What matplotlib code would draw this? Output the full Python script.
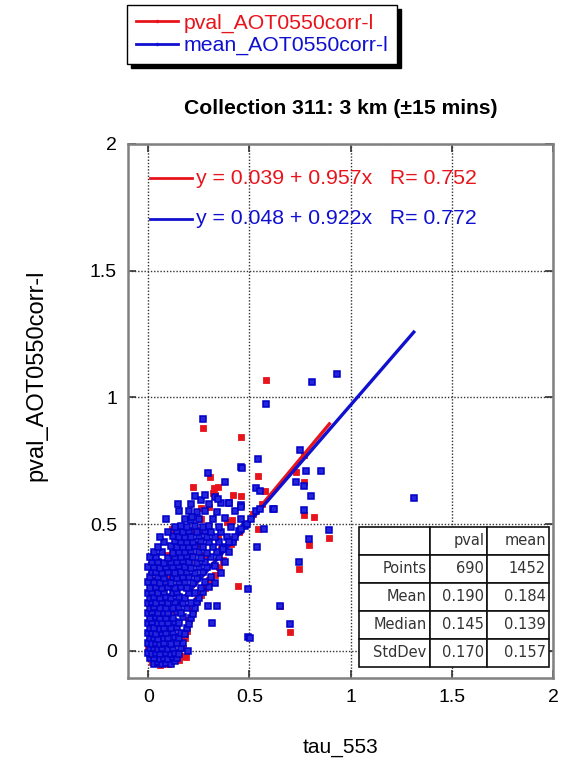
import matplotlib
import numpy as np
import matplotlib.pyplot as plt
from matplotlib.lines import Line2D
matplotlib.use('agg')

# Scatter of retrieved AOT (pval / mean) against tau_553 with linear fits

# mean_AOT0550corr-l (x = tau_553, y = retrieval)
blue_pts = [
    (0.03, -0.05), (0.05, -0.045), (0.07, -0.052), (0.09, -0.047), (0.11, -0.05), (0.13, -0.04),
    (0.01, -0.03), (0.03, -0.028), (0.06, -0.033), (0.08, -0.027), (0.1, -0.031), (0.12, -0.026), (0.14, -0.03),
    (0.0, -0.01), (0.02, -0.012), (0.04, -0.008), (0.06, -0.013), (0.09, -0.009), (0.11, -0.011), (0.13, -0.007), (0.15, -0.012),
    (0.01, 0.01), (0.03, 0.012), (0.05, 0.008), (0.07, 0.011), (0.1, 0.009), (0.12, 0.013), (0.16, 0.01),
    (0.0, 0.03), (0.02, 0.028), (0.04, 0.033), (0.06, 0.029), (0.08, 0.031), (0.11, 0.027), (0.14, 0.032), (0.17, 0.03),
    (0.01, 0.05), (0.03, 0.052), (0.05, 0.048), (0.08, 0.051), (0.1, 0.049), (0.13, 0.053), (0.15, 0.05),
    (0.0, 0.07), (0.02, 0.072), (0.04, 0.068), (0.07, 0.071), (0.09, 0.069), (0.12, 0.073), (0.16, 0.07), (0.18, 0.068),
    (0.01, 0.09), (0.03, 0.092), (0.06, 0.088), (0.08, 0.091), (0.11, 0.089), (0.14, 0.093), (0.19, 0.09),
    (0.0, 0.11), (0.02, 0.112), (0.05, 0.108), (0.07, 0.111), (0.1, 0.109), (0.13, 0.113), (0.15, 0.11), (0.2, 0.107),
    (0.01, 0.13), (0.04, 0.132), (0.06, 0.128), (0.09, 0.131), (0.12, 0.129), (0.17, 0.133), (0.21, 0.13),
    (0.0, 0.15), (0.02, 0.152), (0.05, 0.148), (0.08, 0.151), (0.1, 0.149), (0.14, 0.153), (0.16, 0.15), (0.22, 0.147),
    (0.01, 0.17), (0.03, 0.172), (0.06, 0.168), (0.09, 0.171), (0.12, 0.169), (0.15, 0.173), (0.19, 0.17), (0.23, 0.168),
    (0.0, 0.19), (0.02, 0.192), (0.04, 0.188), (0.07, 0.191), (0.1, 0.189), (0.13, 0.193), (0.17, 0.19), (0.21, 0.188), (0.24, 0.191),
    (0.01, 0.21), (0.03, 0.212), (0.06, 0.208), (0.09, 0.211), (0.11, 0.209), (0.15, 0.213), (0.18, 0.21), (0.25, 0.207),
    (0.0, 0.23), (0.02, 0.232), (0.05, 0.228), (0.08, 0.231), (0.12, 0.229), (0.14, 0.233), (0.2, 0.23), (0.23, 0.228), (0.27, 0.231),
    (0.01, 0.25), (0.04, 0.252), (0.07, 0.248), (0.1, 0.251), (0.13, 0.249), (0.16, 0.253), (0.19, 0.25), (0.26, 0.247), (0.3, 0.252),
    (0.0, 0.27), (0.03, 0.272), (0.06, 0.268), (0.09, 0.271), (0.11, 0.269), (0.15, 0.273), (0.18, 0.27), (0.22, 0.268), (0.28, 0.271), (0.33, 0.269),
    (0.01, 0.29), (0.05, 0.292), (0.08, 0.288), (0.12, 0.291), (0.14, 0.289), (0.17, 0.293), (0.2, 0.29), (0.24, 0.288), (0.31, 0.291),
    (0.02, 0.31), (0.04, 0.312), (0.07, 0.308), (0.1, 0.311), (0.13, 0.309), (0.16, 0.313), (0.19, 0.31), (0.23, 0.308), (0.27, 0.311), (0.36, 0.309),
    (0.0, 0.33), (0.03, 0.332), (0.06, 0.328), (0.09, 0.331), (0.12, 0.329), (0.15, 0.333), (0.18, 0.33), (0.21, 0.328), (0.25, 0.331), (0.29, 0.329), (0.33, 0.333),
    (0.02, 0.35), (0.05, 0.352), (0.08, 0.348), (0.11, 0.351), (0.14, 0.349), (0.17, 0.353), (0.2, 0.35), (0.24, 0.348), (0.28, 0.351), (0.38, 0.349),
    (0.01, 0.37), (0.04, 0.372), (0.1, 0.368), (0.13, 0.371), (0.16, 0.369), (0.19, 0.373), (0.22, 0.37), (0.26, 0.368), (0.31, 0.371), (0.35, 0.369),
    (0.03, 0.39), (0.07, 0.392), (0.12, 0.388), (0.15, 0.391), (0.18, 0.389), (0.21, 0.393), (0.25, 0.39), (0.29, 0.388), (0.34, 0.391), (0.4, 0.389),
    (0.05, 0.41), (0.11, 0.412), (0.14, 0.408), (0.17, 0.411), (0.2, 0.409), (0.23, 0.413), (0.27, 0.41), (0.32, 0.408), (0.37, 0.411),
    (0.08, 0.43), (0.13, 0.432), (0.16, 0.428), (0.19, 0.431), (0.22, 0.429), (0.26, 0.433), (0.3, 0.43), (0.35, 0.428), (0.42, 0.431),
    (0.06, 0.45), (0.12, 0.452), (0.15, 0.448), (0.18, 0.451), (0.21, 0.449), (0.25, 0.453), (0.29, 0.45), (0.33, 0.448), (0.39, 0.451),
    (0.1, 0.47), (0.14, 0.472), (0.17, 0.468), (0.2, 0.471), (0.24, 0.469), (0.28, 0.473), (0.31, 0.47), (0.36, 0.468), (0.45, 0.471),
    (0.13, 0.49), (0.16, 0.492), (0.19, 0.488), (0.23, 0.491), (0.27, 0.489), (0.3, 0.493), (0.35, 0.49), (0.41, 0.488), (0.48, 0.491),
    (0.09, 0.52), (0.18, 0.522), (0.21, 0.518), (0.25, 0.521), (0.32, 0.519), (0.38, 0.523), (0.46, 0.52),
    (0.15, 0.55), (0.2, 0.552), (0.24, 0.548), (0.28, 0.551), (0.34, 0.549), (0.43, 0.553),
    (0.145, 0.581), (0.21, 0.58), (0.26, 0.596), (0.3, 0.578), (0.36, 0.582), (0.4, 0.583), (0.46, 0.576),
    (0.23, 0.61), (0.28, 0.615), (0.33, 0.608), (0.218, 0.527), (0.296, 0.701), (0.378, 0.668), (0.46, 0.725), (0.343, 0.598),
    (0.37, 0.40), (0.40, 0.43), (0.43, 0.45), (0.46, 0.48), (0.49, 0.50), (0.51, 0.52), (0.53, 0.55), (0.55, 0.56), (0.749, 0.793),
    (0.931, 1.093), (0.807, 1.061), (0.583, 0.974), (0.271, 0.915), (0.543, 0.757), (0.462, 0.722), (0.856, 0.710),
    (0.777, 0.710), (0.771, 0.651), (0.731, 0.668), (0.802, 0.611), (0.769, 0.556), (0.617, 0.559), (0.895, 0.477),
    (0.794, 0.442), (0.744, 0.350), (0.653, 0.178), (0.701, 0.105), (0.492, 0.055), (0.505, 0.051), (0.535, 0.410),
    (0.494, 0.243), (1.312, 0.603), (0.313, 0.110), (0.342, 0.178), (0.293, 0.178), (0.196, 0.0), (0.459, 0.569),
    (0.620, 0.560), (0.571, 0.481), (0.530, 0.642), (0.551, 0.631), (0.401, 0.583),
]

# pval_AOT0550corr-l
red_pts = [
    (0.02, -0.045), (0.06, -0.055), (0.1, -0.05), (0.15, -0.035), (0.16, -0.02), (0.0, 0.02), (0.17, 0.01),
    (0.18, 0.05), (0.02, 0.1), (0.19, 0.08), (0.2, 0.12), (0.01, 0.16), (0.22, 0.16), (0.05, 0.2), (0.24, 0.2),
    (0.12, 0.24), (0.26, 0.22), (0.28, 0.25), (0.03, 0.28), (0.3, 0.28), (0.09, 0.3), (0.33, 0.3), (0.15, 0.32),
    (0.35, 0.33), (0.04, 0.34), (0.2, 0.36), (0.37, 0.36), (0.1, 0.38), (0.28, 0.38), (0.139, 0.379), (0.17, 0.4),
    (0.36, 0.4), (0.24, 0.42), (0.41, 0.42), (0.175, 0.451), (0.345, 0.447), (0.115, 0.48), (0.233, 0.477),
    (0.266, 0.477), (0.455, 0.477), (0.261, 0.52), (0.39, 0.51), (0.414, 0.517), (0.262, 0.563), (0.299, 0.569),
    (0.419, 0.615), (0.46, 0.611), (0.318, 0.622), (0.332, 0.615), (0.323, 0.642), (0.343, 0.648), (0.219, 0.645),
    (0.307, 0.688), (0.579, 0.632), (0.08, 0.12), (0.13, 0.06), (0.07, 0.26), (0.11, 0.0), (0.187, -0.025),
    (0.42, 0.44), (0.45, 0.47), (0.48, 0.50), (0.52, 0.54), (0.56, 0.58), (0.772, 0.773),
    (0.583, 1.069), (0.271, 0.880), (0.460, 0.844), (0.540, 0.690), (0.771, 0.667), (0.731, 0.707), (0.769, 0.537),
    (0.817, 0.529), (0.895, 0.446), (0.794, 0.418), (0.744, 0.324), (0.653, 0.178), (0.701, 0.075), (0.444, 0.256),
    (0.541, 0.481),
]

# linear fits: intercept, slope, R
red_fit = [0.039, 0.957, 0.752]
blue_fit = [0.048, 0.922, 0.772]

# summary table
stat_cols = ['', 'pval', 'mean']
stat_rows = ['Points', 'Mean', 'Median', 'StdDev']
stat_pval = ['690', '0.190', '0.145', '0.170']
stat_mean = ['1452', '0.184', '0.139', '0.157']

ticks = [0, 0.5, 1, 1.5, 2]
tick_labels = ['0', '0.5', '1', '1.5', '2']

RED = '#e8141c'
BLUE = '#1010d0'

plt.rcParams['font.family'] = ['Liberation Sans', 'DejaVu Sans']

fig = plt.figure(figsize=(5.7, 7.7), dpi=100)
ax = fig.add_axes([0.2246, 0.1195, 0.7456, 0.6935])

rx, ry = np.array(red_pts).T
bx, by = np.array(blue_pts).T

# fit lines over the range of each series
for xs, fit, col in [(rx, red_fit, RED), (bx, blue_fit, BLUE)]:
    xl = np.array([xs.min(), xs.max()])
    ax.plot(xl, fit[0] + fit[1] * xl, color=col, lw=2.4, zorder=3)

ax.plot(rx, ry, 's', ms=3.7, color=RED, mec=RED, mew=0.6, zorder=2)
ax.plot(bx, by, 's', ms=3.9, mfc='#2424dc', mec='#0000c8', mew=1.1, zorder=4)

ax.set_xlim(-0.1, 2)
ax.set_ylim(-0.107, 2)
ax.set_xticks(ticks, tick_labels)
ax.set_yticks(ticks, tick_labels)
ax.tick_params(direction='in', length=6, width=1.2, top=True, right=True,
               labelsize=14, pad=8, color='#333')
ax.grid(True, color='#333', lw=1.0, ls=(0, (1, 1.3)))
ax.set_axisbelow(True)
for s in ax.spines.values():
    s.set_color('#808080')
    s.set_linewidth(1.8)

ax.set_xlabel('tau_553', fontsize=15)
ax.xaxis.set_label_coords(0.5, -0.112)
ax.set_ylabel('pval_AOT0550corr-l', fontsize=17)
ax.yaxis.set_label_coords(-0.19, 0.566)

ax.text(0.5, 1.067, 'Collection 311: 3 km (\u00b115 mins)', transform=ax.transAxes,
        ha='center', va='center', fontsize=15.2, fontweight='bold')

# fit equations
for fit, col, yy in [(red_fit, RED, 0.936), (blue_fit, BLUE, 0.860)]:
    ax.plot([0.052, 0.151], [yy, yy], color=col, lw=2, transform=ax.transAxes, zorder=5)
    ax.text(0.16, yy, 'y = %.3f + %.3fx   R= %.3f' % (fit[0], fit[1], fit[2]),
            transform=ax.transAxes, color=col, fontsize=15.3, va='center', zorder=5)

# statistics table
cells = [stat_cols] + [[r, p, m] for r, p, m in zip(stat_rows, stat_pval, stat_mean)]
tab = ax.table(cellText=cells, cellLoc='right', bbox=[0.5435, 0.0206, 0.4471, 0.2622],
               colWidths=[0.374, 0.30, 0.326], zorder=6)
tab.auto_set_font_size(False)
for (r, c), cell in tab.get_celld().items():
    cell.set_facecolor('white')
    cell.set_edgecolor('#111')
    cell.set_linewidth(1.2)
    cell.get_text().set_fontsize(10.5)
    cell.get_text().set_color('#333')
    cell.get_text().set_fontfamily('DejaVu Sans')
    cell.PAD = 0.05

# legend above the axes
handles = [Line2D([], [], color=RED, lw=2, marker='.', ms=3),
           Line2D([], [], color=BLUE, lw=2, marker='.', ms=3)]
leg = fig.legend(handles, ['pval_AOT0550corr-l', 'mean_AOT0550corr-l'],
                 loc='upper left', bbox_to_anchor=(127 / 570, 1 - 5 / 770),
                 borderaxespad=0, fontsize=15.3, labelcolor='linecolor',
                 handlelength=2.0, handletextpad=0.25, borderpad=0.4,
                 labelspacing=0.15, fancybox=False, edgecolor='black',
                 shadow={'color': 'black', 'alpha': 1, 'ox': 3, 'oy': -3})
leg.get_frame().set_linewidth(1.0)
leg.get_frame().set_alpha(1)

fig.savefig('out.png', dpi=100)
